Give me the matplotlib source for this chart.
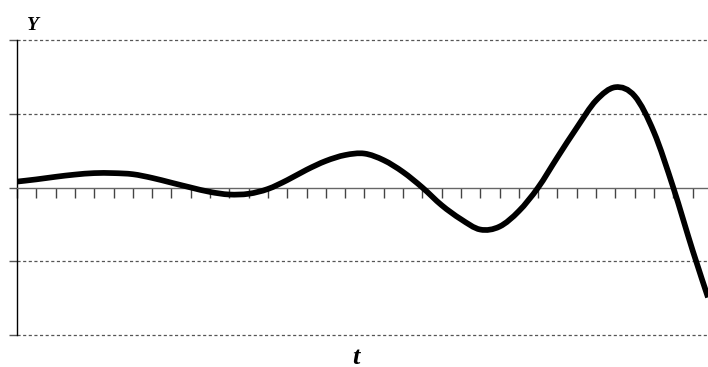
import numpy as np
import matplotlib
matplotlib.use("Agg")
import matplotlib.pyplot as plt
from matplotlib.path import Path
from matplotlib.patches import PathPatch

# readings, one per tick of the t axis
t_values = [0, 1, 2, 3, 4, 5, 6, 7, 8, 9, 10, 11, 12, 13, 14, 15, 16, 17,
            18, 19, 20, 21, 22, 23, 24, 25, 26, 27, 28, 29, 30, 31, 32, 33,
            34, 35, 35.8]
y_values = [0.08, 0.11, 0.145, 0.175, 0.195, 0.195, 0.18, 0.13, 0.065, 0.0,
            -0.06, -0.095, -0.085, -0.02, 0.10, 0.24, 0.36, 0.44, 0.46, 0.37,
            0.21, 0.0, -0.24, -0.43, -0.57, -0.53, -0.32, 0.0, 0.41, 0.81,
            1.18, 1.36, 1.24, 0.75, 0.0, -0.85, -1.49]
grid_levels = [-2, -1, 1, 2]


def smooth_path(xs, ys):
    """Catmull-Rom style bezier path through the points (like a smoothed Excel line)."""
    pts = np.column_stack([xs, ys]).astype(float)
    verts = [pts[0]]
    codes = [Path.MOVETO]
    n = len(pts)
    for i in range(n - 1):
        p0 = pts[i - 1] if i > 0 else pts[i]
        p1 = pts[i]
        p2 = pts[i + 1]
        p3 = pts[i + 2] if i + 2 < n else pts[i + 1]
        c1 = p1 + (p2 - p0) / 6.0
        c2 = p2 - (p3 - p1) / 6.0
        verts += [c1, c2, p2]
        codes += [Path.CURVE4] * 3
    return Path(verts, codes)


fig = plt.figure(figsize=(7.08, 3.67), dpi=100)
ax = fig.add_axes([17 / 708, 1 - 335 / 367, 1 - 17 / 708, 295 / 367])
ax.set_xlim(0, 35.8)
ax.set_ylim(-2, 2)

for lvl in grid_levels:
    ax.axhline(lvl, color="#555555", lw=0.9, linestyle=(0, (2.5, 2)),
               zorder=1, clip_on=False)

ax.add_patch(PathPatch(smooth_path(t_values, y_values), fill=False,
                       edgecolor="black", lw=4.1, capstyle="butt", zorder=3))

for s in ["top", "right"]:
    ax.spines[s].set_visible(False)
ax.spines["left"].set_color("black")
ax.spines["left"].set_linewidth(1.0)
ax.spines["bottom"].set_position(("data", 0))
ax.spines["bottom"].set_color("#666666")
ax.spines["bottom"].set_linewidth(1.0)

ax.set_xticks(np.arange(0, 36, 1))
ax.set_yticks([-2, -1, 0, 1, 2])
ax.tick_params(axis="x", direction="out", length=7.5, width=1.0,
               color="#444444", labelbottom=False)
ax.tick_params(axis="y", direction="out", length=6, width=1.0,
               color="#555555", labelleft=False)

fig.text(33 / 708, 1 - 25 / 367, "Y", fontsize=14, fontweight="bold",
         fontstyle="italic", family="Liberation Serif", ha="center", va="center")
fig.text(356 / 708, 1 - 357 / 367, "t", fontsize=19, fontweight="bold",
         fontstyle="italic", family="Liberation Serif", ha="center", va="center")

fig.savefig("out.png", dpi=100)
